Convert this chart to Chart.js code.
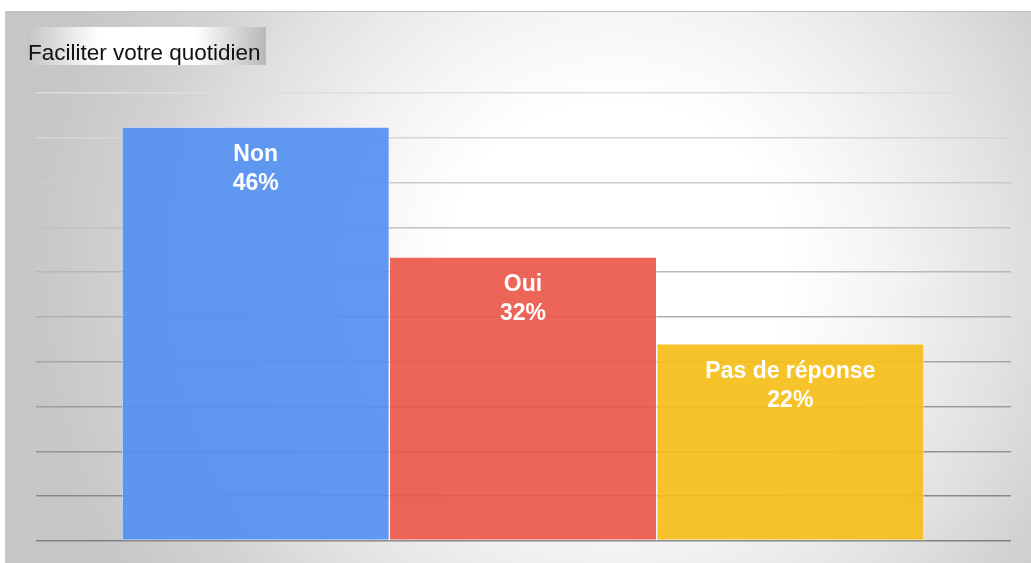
<!DOCTYPE html>
<html lang="fr">

<head>
    <meta charset="UTF-8">
    <meta name="viewport" content="width=device-width, initial-scale=1.0">
    <title>Faciliter votre quotidien</title>

    <style>
        html, body {
            margin: 0;
            padding: 0;
            background: #ffffff;
        }
        #panel {
            position: absolute;
            left: 5px;
            top: 11px;
            width: 1026px;
            height: 552px;
            border-top: 1px solid #c4c4c4;
            border-left: 1px solid #c8c8c8;
            background: radial-gradient(circle at 610px 260px, #ffffff 0px, #ffffff 170px, #f4f4f4 270px, #e2e2e2 390px, #d2d2d2 480px, #c6c6c6 590px);
        }
        #wrap {
            position: absolute;
            left: 0;
            top: 0;
            width: 1031px;
            height: 563px;
        }
    </style>
</head>

<body>
    <div id="panel"></div>
    <div id="wrap">
        <canvas id="myChart"></canvas>
    </div>

    <script src="https://cdn.jsdelivr.net/npm/chart.js"></script>

    <script>
        const chartTitle = "Faciliter votre quotidien";
        const categories = ["Non", "Oui", "Pas de réponse"];
        const percentages = [46.2, 31.7, 22.0];
        const percentLabels = ["46%", "32%", "22%"];
        const yTicks = [0, 5, 10, 15, 20, 25, 30, 35, 40, 45, 50];

        const barColors = ["rgba(84, 144, 241, 0.93)", "rgba(236, 88, 76, 0.93)", "rgba(246, 190, 26, 0.93)"];

        // grid lines fade from dark at the bottom to almost invisible at the top
        function gridColor(i) {
            const t = i / (yTicks.length - 1);
            const v = Math.round(128 + t * (222 - 128));
            return "rgb(" + v + "," + v + "," + v + ")";
        }

        const titleBox = {
            id: "titleBox",
            afterDraw(chart) {
                const ctx = chart.ctx;
                ctx.save();
                const g = ctx.createLinearGradient(27, 0, 266, 0);
                g.addColorStop(0, "#c4c4c4");
                g.addColorStop(0.3, "#ffffff");
                g.addColorStop(0.7, "#ffffff");
                g.addColorStop(1, "#b8b8b8");
                ctx.fillStyle = g;
                ctx.fillRect(27, 27, 239, 38);
                ctx.fillStyle = "#111111";
                ctx.font = "22.5px 'Liberation Sans', Arial, sans-serif";
                ctx.textBaseline = "alphabetic";
                ctx.textAlign = "left";
                ctx.fillText(chartTitle, 28, 60);
                ctx.restore();
            }
        };

        const barLabels = {
            id: "barLabels",
            afterDatasetsDraw(chart) {
                const ctx = chart.ctx;
                const meta = chart.getDatasetMeta(0);
                ctx.save();
                ctx.fillStyle = "#ffffff";
                ctx.font = "bold 23px 'Liberation Sans', Arial, sans-serif";
                ctx.textAlign = "center";
                ctx.textBaseline = "middle";
                meta.data.forEach((bar, i) => {
                    ctx.fillText(categories[i], bar.x, bar.y + 28);
                    ctx.fillText(percentLabels[i], bar.x, bar.y + 57);
                });
                ctx.restore();
            }
        };

        const yGrid = (tickLen, onArea) => ({
            drawTicks: true,
            tickLength: tickLen,
            drawOnChartArea: onArea,
            lineWidth: 1.5,
            color: (c) => gridColor(c.index),
            tickColor: (c) => gridColor(c.index)
        });

        const myCanvas = document.getElementById('myChart');

        const myChart = new Chart(myCanvas, {
            type: 'bar',
            data: {
                labels: categories,
                datasets: [{
                    data: percentages,
                    backgroundColor: barColors,
                    borderColor: "rgba(255, 255, 255, 0.5)",
                    borderWidth: 1,
                    borderSkipped: false,
                    barPercentage: 1,
                    categoryPercentage: 1
                }]
            },
            options: {
                responsive: true,
                maintainAspectRatio: false,
                animation: false,
                layout: {
                    padding: { left: 36, right: 20, top: 93, bottom: 22 }
                },
                plugins: {
                    legend: { display: false },
                    tooltip: { enabled: false },
                    title: { display: false }
                },
                scales: {
                    x: {
                        display: false
                    },
                    y: {
                        position: 'left',
                        min: 0,
                        max: 50,
                        afterBuildTicks: (scale) => {
                            scale.ticks = yTicks.map(v => ({ value: v }));
                        },
                        ticks: { display: false },
                        border: { display: false },
                        grid: yGrid(86, true)
                    },
                    y2: {
                        position: 'right',
                        min: 0,
                        max: 50,
                        afterBuildTicks: (scale) => {
                            scale.ticks = yTicks.map(v => ({ value: v }));
                        },
                        ticks: { display: false },
                        border: { display: false },
                        grid: yGrid(87, false)
                    }
                }
            },
            plugins: [titleBox, barLabels]
        });
    </script>
</body>

</html>
